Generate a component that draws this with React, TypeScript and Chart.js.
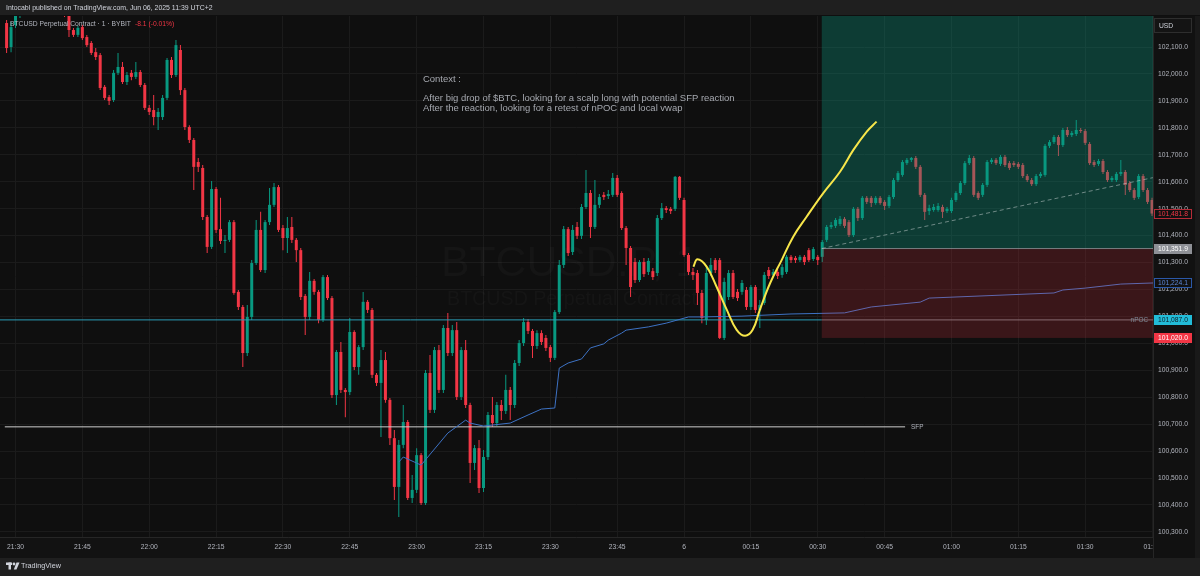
import React, { useEffect, useRef } from 'react';
import { Chart, registerables } from 'chart.js';
Chart.register(...registerables);

// minutes counted from 21:30 (UTC+2); first candle at 21:28
const firstMinute = -2;

const opens = [
  102189, 102100, 102182, 102215, 102245, 102267, 102252, 102282, 102263, 102237,
  102256, 102241, 102260, 102245, 102222, 102163, 102145, 102174, 102137, 102115,
  102081, 102070, 101952, 101914, 101903, 102004, 102026, 101970, 102004, 101989,
  102007, 101959, 101874, 101866, 101840, 101840, 101911, 102052, 101996, 102089,
  101940, 101803, 101755, 101673, 101651, 101469, 101358, 101573, 101424, 101380,
  101384, 101450, 101191, 101135, 100964, 101098, 101298, 101421, 101272, 101450,
  101514, 101580, 101428, 101391, 101432, 101384, 101346, 101176, 101098, 101232,
  101191, 101087, 101246, 101168, 100808, 100968, 100827, 100819, 101042, 100912,
  100986, 101154, 101124, 100883, 100853, 100938, 100790, 100648, 100467, 100623,
  100708, 100426, 100456, 100585, 100407, 100890, 100753, 100975, 100827, 101057,
  100964, 101049, 100801, 100975, 100771, 100556, 100611, 100463, 100578, 100734,
  100704, 100771, 100749, 100827, 100771, 100927, 101001, 101079, 101046, 100990,
  101038, 101020, 100986, 100946, 101116, 101291, 101424, 101339, 101432, 101399,
  101506, 101558, 101432, 101514, 101551, 101547, 101551, 101614, 101558, 101428,
  101354, 101302, 101235, 101302, 101265, 101268, 101261, 101465, 101502, 101499,
  101499, 101618, 101532, 101328, 101265, 101261, 101187, 101087, 101261, 101309,
  101309, 101020, 101172, 101261, 101191, 101191, 101198, 101135, 101209, 101124,
  101150, 101272, 101254, 101265, 101254, 101265, 101321, 101317, 101309, 101321,
  101346, 101313, 101321, 101321, 101384, 101432, 101436, 101443, 101462, 101450,
  101402, 101499, 101465, 101540, 101540, 101521, 101540, 101525, 101510, 101543,
  101606, 101625, 101669, 101681, 101688, 101655, 101551, 101491, 101495, 101495,
  101506, 101491, 101491, 101532, 101558, 101595, 101669, 101688, 101558, 101551,
  101588, 101673, 101681, 101666, 101692, 101669, 101669, 101666, 101662, 101621,
  101606, 101591, 101621, 101625, 101733, 101747, 101766, 101736, 101792, 101773,
  101777, 101792, 101788, 101740, 101673, 101666, 101677, 101636, 101606, 101606,
  101629, 101636, 101595, 101569, 101543, 101621, 101569, 101532,
];

const highs = [
  102200, 102193, 102237, 102260, 102282, 102289, 102297, 102293, 102271, 102263,
  102267, 102271, 102267, 102256, 102230, 102171, 102178, 102182, 102145, 102122,
  102096, 102078, 101959, 101922, 102015, 102078, 102044, 102007, 102015, 102044,
  102015, 101966, 101885, 101922, 101874, 101922, 102059, 102063, 102126, 102107,
  101948, 101810, 101762, 101688, 101662, 101476, 101603, 101580, 101540, 101402,
  101458, 101458, 101198, 101142, 101142, 101309, 101458, 101488, 101458, 101577,
  101595, 101588, 101439, 101469, 101469, 101391, 101354, 101183, 101265, 101239,
  101198, 101254, 101254, 101176, 100975, 101005, 100834, 101094, 101049, 100994,
  101191, 101161, 101131, 100890, 100975, 100968, 100797, 100678, 100641, 100771,
  100715, 100511, 100611, 100593, 100901, 100957, 100986, 100994, 101068, 101113,
  101068, 101079, 100986, 101012, 100779, 100623, 100641, 100604, 100745, 100801,
  100782, 100790, 100883, 100838, 100938, 101012, 101094, 101090, 101053, 101049,
  101049, 101031, 100994, 101124, 101309, 101436, 101432, 101439, 101450, 101517,
  101643, 101569, 101606, 101554, 101562, 101569, 101632, 101625, 101565, 101436,
  101361, 101317, 101309, 101317, 101317, 101280, 101476, 101521, 101510, 101506,
  101621, 101621, 101540, 101335, 101280, 101272, 101198, 101291, 101317, 101317,
  101317, 101243, 101272, 101272, 101202, 101235, 101209, 101217, 101217, 101161,
  101265, 101283, 101276, 101276, 101294, 101328, 101328, 101324, 101328, 101328,
  101354, 101358, 101328, 101384, 101439, 101450, 101465, 101473, 101469, 101458,
  101506, 101506, 101547, 101547, 101547, 101547, 101547, 101532, 101551, 101614,
  101640, 101681, 101688, 101692, 101695, 101662, 101558, 101514, 101517, 101521,
  101514, 101506, 101540, 101565, 101603, 101677, 101699, 101695, 101565, 101595,
  101681, 101688, 101688, 101699, 101699, 101677, 101677, 101673, 101669, 101629,
  101614, 101629, 101636, 101740, 101755, 101773, 101773, 101799, 101803, 101788,
  101829, 101799, 101796, 101747, 101681, 101684, 101684, 101643, 101621, 101636,
  101681, 101643, 101603, 101577, 101629, 101629, 101577, 101540,
];

const lows = [
  102078, 102081, 102171, 102208, 102230, 102241, 102245, 102252, 102226, 102226,
  102230, 102234, 102230, 102211, 102137, 102137, 102137, 102126, 102100, 102070,
  102052, 101940, 101903, 101885, 101896, 101996, 101963, 101959, 101977, 101981,
  101952, 101866, 101848, 101810, 101792, 101829, 101903, 101985, 101989, 101922,
  101792, 101744, 101569, 101636, 101458, 101335, 101350, 101410, 101369, 101335,
  101376, 101180, 101124, 100912, 100953, 101087, 101291, 101265, 101261, 101439,
  101506, 101413, 101346, 101335, 101372, 101302, 101161, 101031, 101087, 101180,
  101075, 101079, 101161, 100797, 100771, 100816, 100726, 100808, 100901, 100883,
  100975, 101113, 100871, 100842, 100652, 100779, 100623, 100418, 100355, 100611,
  100418, 100407, 100444, 100400, 100400, 100741, 100741, 100816, 100816, 100953,
  100953, 100790, 100790, 100760, 100482, 100530, 100444, 100448, 100567, 100689,
  100693, 100715, 100738, 100715, 100760, 100916, 100990, 101035, 100946, 100979,
  100994, 100972, 100931, 100938, 101109, 101280, 101324, 101328, 101387, 101387,
  101499, 101391, 101424, 101502, 101532, 101536, 101543, 101543, 101421, 101291,
  101172, 101224, 101228, 101246, 101254, 101235, 101250, 101458, 101484, 101480,
  101491, 101532, 101321, 101254, 101235, 101142, 101075, 101068, 101250, 101261,
  101016, 101012, 101161, 101165, 101157, 101180, 101124, 101124, 101113, 101057,
  101142, 101239, 101246, 101239, 101243, 101257, 101298, 101298, 101302, 101291,
  101302, 101306, 101291, 101302, 101376, 101424, 101428, 101436, 101428, 101395,
  101395, 101454, 101458, 101517, 101506, 101514, 101514, 101495, 101502, 101536,
  101599, 101618, 101662, 101673, 101647, 101543, 101458, 101476, 101488, 101488,
  101465, 101484, 101484, 101525, 101551, 101588, 101662, 101543, 101532, 101543,
  101580, 101666, 101662, 101658, 101655, 101643, 101655, 101647, 101614, 101599,
  101584, 101584, 101614, 101618, 101725, 101740, 101695, 101729, 101766, 101766,
  101770, 101781, 101736, 101662, 101655, 101658, 101629, 101599, 101599, 101599,
  101621, 101551, 101562, 101532, 101536, 101562, 101517, 101473,
];

const closes = [
  102096, 102174, 102222, 102245, 102267, 102252, 102282, 102263, 102237, 102256,
  102241, 102260, 102245, 102222, 102163, 102145, 102171, 102133, 102107, 102078,
  102063, 101948, 101911, 101900, 102004, 102026, 101970, 101996, 101989, 102007,
  101959, 101874, 101859, 101840, 101859, 101911, 102052, 101996, 102107, 101940,
  101803, 101755, 101655, 101655, 101469, 101358, 101573, 101421, 101380, 101384,
  101450, 101187, 101135, 100964, 101098, 101298, 101421, 101272, 101450, 101514,
  101580, 101421, 101391, 101428, 101384, 101346, 101172, 101098, 101232, 101191,
  101087, 101246, 101168, 100808, 100968, 100827, 100819, 101042, 100912, 100986,
  101154, 101124, 100883, 100853, 100938, 100790, 100648, 100467, 100623, 100708,
  100426, 100456, 100585, 100407, 100890, 100753, 100975, 100827, 101057, 100964,
  101049, 100801, 100975, 100771, 100556, 100611, 100463, 100578, 100734, 100704,
  100771, 100749, 100827, 100771, 100927, 101001, 101079, 101046, 100990, 101038,
  101005, 100983, 100946, 101116, 101291, 101424, 101335, 101421, 101399, 101506,
  101558, 101432, 101514, 101543, 101543, 101554, 101614, 101551, 101428, 101354,
  101209, 101235, 101302, 101257, 101306, 101246, 101465, 101502, 101495, 101491,
  101618, 101540, 101328, 101265, 101254, 101187, 101094, 101261, 101291, 101272,
  101020, 101228, 101261, 101172, 101168, 101224, 101135, 101209, 101124, 101142,
  101254, 101250, 101265, 101250, 101283, 101321, 101309, 101309, 101321, 101302,
  101309, 101350, 101309, 101376, 101432, 101439, 101458, 101462, 101436, 101402,
  101499, 101465, 101540, 101525, 101521, 101540, 101521, 101510, 101543, 101606,
  101632, 101673, 101681, 101688, 101655, 101551, 101488, 101502, 101506, 101510,
  101488, 101499, 101532, 101558, 101595, 101669, 101688, 101551, 101540, 101588,
  101673, 101681, 101669, 101692, 101662, 101651, 101662, 101655, 101621, 101606,
  101591, 101621, 101629, 101733, 101747, 101766, 101736, 101792, 101773, 101781,
  101792, 101788, 101744, 101669, 101662, 101677, 101636, 101606, 101614, 101629,
  101636, 101588, 101569, 101540, 101621, 101569, 101525, 101481.8,
];

const timeTickMinutes = [0, 15, 30, 45, 60, 75, 90, 105, 120, 135, 150, 165, 180, 195, 210, 225, 240, 255];
const timeTickLabels = ['21:30', '21:45', '22:00', '22:15', '22:30', '22:45', '23:00', '23:15', '23:30', '23:45', '6', '00:15', '00:30', '00:45', '01:00', '01:15', '01:30', '01:45'];
const priceTicks = [100300, 100400, 100500, 100600, 100700, 100800, 100900, 101000, 101100, 101200, 101300, 101400, 101500, 101600, 101700, 101800, 101900, 102000, 102100];

const vwapMinutes = [86, 87, 91, 97, 101, 102, 105, 111, 115, 118, 121, 122, 124, 127, 129, 132, 133, 136, 137, 142, 146, 151, 154, 163, 174, 186, 192, 203, 205, 233, 235, 240, 248, 255.3];
const vwapValues = [100559, 100578, 100548, 100667, 100715, 100704, 100693, 100704, 100734, 100756, 100760, 100908, 100927, 100942, 100983, 100998, 101012, 101038, 101049, 101061, 101075, 101098, 101098, 101101, 101109, 101113, 101135, 101153, 101168, 101187, 101198, 101205, 101220, 101224.1];

const curveMinutes = [152.1, 153.0, 155.1, 157.3, 159.6, 161.8, 163.7, 165.4, 167.0, 169.3, 171.9, 174.5, 177.5, 181.2, 185.0, 188.0, 191.0, 193.2];
const curvePrices = [101284, 101312, 101284, 101210, 101124, 101050, 101028, 101050, 101124, 101223, 101309, 101396, 101470, 101557, 101637, 101718, 101786, 101823];

const npocPrice = 101087.0;
const sfpPrice = 100690;
const sfpStartMinute = -2.4;
const sfpEndMinute = 199.6;
const entryPrice = 101351.9;
const stopPrice = 101020.0;
const targetPrice = 102300;
const positionStartMinute = 180.9;
const trendEndMinute = 255.2;
const trendEndPrice = 101615;
const lastPrice = 101481.8;
const vwapLast = 101224.1;

const xMin = -3.48;
const xMax = 255.22;
const yMin = 100281.1;
const yMax = 102215.1;

const UP = '#089981';
const DOWN = '#f23645';
const FONT = '"Liberation Sans", Arial, sans-serif';

const fmt = (v: number) => v.toLocaleString('en-US', { minimumFractionDigits: 1, maximumFractionDigits: 1 });

function fitSize(ctx: CanvasRenderingContext2D, text: string, width: number, weight = '') {
  ctx.font = `${weight} 100px ${FONT}`;
  return (100 * width) / ctx.measureText(text).width;
}

const tvPlugin = {
  id: 'tvDecor',
  beforeDraw(chart: any) {
    const { ctx, chartArea: a } = chart;
    ctx.save();
    ctx.fillStyle = '#0f0f0f';
    ctx.fillRect(0, 0, 1200, 576);
    ctx.fillStyle = '#111111';
    ctx.fillRect(a.right, a.top, 1200 - a.right, 558 - a.top);
    ctx.fillStyle = '#121212';
    ctx.fillRect(0, a.bottom, a.right, 558 - a.bottom);
    ctx.fillStyle = '#1f1f1f';
    ctx.fillRect(0, 0, 1200, a.top - 1);
    ctx.fillRect(0, 558, 1200, 18);
    ctx.fillStyle = '#191919';
    ctx.fillRect(1195, a.top, 5, 558 - a.top);
    ctx.restore();
  },
  beforeDatasetsDraw(chart: any) {
    const { ctx } = chart;
    ctx.save();
    ctx.fillStyle = 'rgba(255,255,255,0.028)';
    ctx.textAlign = 'center';
    ctx.textBaseline = 'middle';
    let s = fitSize(ctx, 'BTCUSD.P, 1', 258);
    ctx.font = `${s}px ${FONT}`;
    ctx.fillText('BTCUSD.P, 1', 570, 264);
    s = fitSize(ctx, 'BTCUSD Perpetual Contract', 250);
    ctx.font = `${s}px ${FONT}`;
    ctx.fillText('BTCUSD Perpetual Contract', 572, 300);
    ctx.restore();
  },
  afterDatasetDraw(chart: any, args: any) {
    if (chart.data.datasets[args.index].label !== 'VWAP') return;
    const { ctx, chartArea: a, scales } = chart;
    const xs = scales.x, ys = scales.y;
    const left = xs.getPixelForValue(positionStartMinute);
    const yT = Math.max(ys.getPixelForValue(targetPrice), a.top);
    const yE = ys.getPixelForValue(entryPrice);
    const yS = ys.getPixelForValue(stopPrice);
    ctx.save();
    ctx.beginPath();
    ctx.rect(a.left, a.top, a.right - a.left, a.bottom - a.top);
    ctx.clip();
    ctx.fillStyle = 'rgba(8,153,129,0.33)';
    ctx.fillRect(left, yT, a.right - left, yE - yT);
    ctx.fillStyle = 'rgba(242,54,69,0.19)';
    ctx.fillRect(left, yE, a.right - left, yS - yE);
    ctx.restore();
  },
  afterDraw(chart: any) {
    const { ctx, chartArea: a, scales } = chart;
    const xs = scales.x, ys = scales.y;
    ctx.save();
    ctx.strokeStyle = '#262626';
    ctx.lineWidth = 1;
    ctx.beginPath();
    ctx.moveTo(a.right + 0.5, a.top);
    ctx.lineTo(a.right + 0.5, 558);
    ctx.moveTo(0, a.bottom + 0.5);
    ctx.lineTo(a.right, a.bottom + 0.5);
    ctx.stroke();

    const axisSize = fitSize(ctx, '102,100.0', 30);
    ctx.font = `${axisSize}px ${FONT}`;
    ctx.textBaseline = 'middle';
    ctx.fillStyle = '#b2b5be';
    ctx.textAlign = 'left';
    priceTicks.forEach((p) => {
      const y = ys.getPixelForValue(p);
      ctx.fillText(fmt(p), a.right + 5, y);
    });
    ctx.save();
    ctx.beginPath();
    ctx.rect(0, a.bottom, a.right, 30);
    ctx.clip();
    ctx.textAlign = 'center';
    timeTickMinutes.forEach((m, i) => {
      ctx.fillText(timeTickLabels[i], xs.getPixelForValue(m), a.bottom + 10.5);
    });
    ctx.restore();

    const tag = (price: number, text: string, bg: string, fg: string, border?: string) => {
      const y = Math.round(ys.getPixelForValue(price));
      const x = a.right + 1, w = 38, h = 10;
      ctx.fillStyle = bg;
      ctx.fillRect(x, y - 5, w, h);
      if (border) {
        ctx.strokeStyle = border;
        ctx.strokeRect(x + 0.5, y - 4.5, w - 1, h - 1);
      }
      ctx.fillStyle = fg;
      ctx.textAlign = 'left';
      ctx.fillText(text, a.right + 5, y + 0.5);
    };
    tag(lastPrice, fmt(lastPrice), '#111111', '#f23645', '#b52c38');
    tag(entryPrice, fmt(entryPrice), '#8e9096', '#ffffff');
    tag(vwapLast, fmt(vwapLast), '#111111', '#5b86d6', '#2b58a8');
    tag(npocPrice, fmt(npocPrice), '#22bcd8', '#0d1b24');
    tag(stopPrice, fmt(stopPrice), '#f23645', '#ffffff');

    ctx.fillStyle = '#141414';
    ctx.fillRect(a.right + 1, 18, 38, 15);
    ctx.strokeStyle = '#2e2e2e';
    ctx.strokeRect(a.right + 1.5, 18.5, 37, 14);
    ctx.fillStyle = '#d1d4dc';
    ctx.fillText('USD', a.right + 6, 26);

    ctx.font = `${axisSize * 0.95}px ${FONT}`;
    ctx.fillStyle = '#7f8b98';
    ctx.textAlign = 'right';
    ctx.fillText('nPOC', a.right - 5, ys.getPixelForValue(npocPrice));
    ctx.fillStyle = '#b2b5be';
    ctx.textAlign = 'left';
    ctx.fillText('SFP', xs.getPixelForValue(sfpEndMinute) + 6, ys.getPixelForValue(sfpPrice));

    const header = 'Intocabl published on TradingView.com, Jun 06, 2025 11:39 UTC+2';
    ctx.font = `${fitSize(ctx, header, 207)}px ${FONT}`;
    ctx.fillStyle = '#d1d4dc';
    ctx.textAlign = 'left';
    ctx.fillText(header, 6, 8);

    const leg = 'BTCUSD Perpetual Contract · 1 · BYBIT';
    const legSize = fitSize(ctx, leg, 121);
    ctx.font = `${legSize}px ${FONT}`;
    ctx.fillStyle = '#b2b5be';
    ctx.fillText(leg, 10, 24.5);
    ctx.fillStyle = '#f23645';
    ctx.fillText('-8.1 (-0.01%)', 135, 24.5);

    const l1 = 'After big drop of $BTC, looking for a scalp long with potential SFP reaction';
    const l2 = 'After the reaction, looking for a retest of nPOC and local vwap';
    const cs = fitSize(ctx, l1, 312);
    ctx.font = `${cs}px ${FONT}`;
    ctx.fillStyle = '#a6a9b0';
    ctx.fillText('Context :', 423, 79.5);
    ctx.fillText(l1, 423, 98);
    ctx.fillText(l2, 423, 108.5);

    ctx.fillStyle = '#d1d4dc';
    ctx.fillRect(6, 562.5, 6, 2.5);
    ctx.fillRect(8.5, 562.5, 2.5, 7);
    ctx.beginPath();
    ctx.arc(14, 564, 1.4, 0, Math.PI * 2);
    ctx.fill();
    ctx.beginPath();
    ctx.moveTo(16.5, 562.5);
    ctx.lineTo(19.5, 562.5);
    ctx.lineTo(16.5, 569.5);
    ctx.lineTo(13.8, 569.5);
    ctx.closePath();
    ctx.fill();
    const tvs = fitSize(ctx, 'TradingView', 40, '500');
    ctx.font = `500 ${tvs}px ${FONT}`;
    ctx.fillText('TradingView', 21, 566.5);
    ctx.restore();
  },
};

export default function App() {
  const ref = useRef<HTMLCanvasElement>(null);
  useEffect(() => {
    document.body.style.margin = '0';
    const minutes = opens.map((_, i) => firstMinute + i);
    const colors = opens.map((o, i) => (closes[i] >= o ? UP : DOWN));
    const chart = new Chart(ref.current as HTMLCanvasElement, {
      type: 'bar',
      data: {
        datasets: [
          {
            type: 'bar',
            label: 'wicks',
            data: minutes.map((m, i) => ({ x: m, y: [lows[i], highs[i]] })) as any,
            backgroundColor: colors,
            barThickness: 1,
            grouped: false,
            inflateAmount: 0,
            order: 10,
          } as any,
          {
            type: 'bar',
            label: 'bodies',
            data: minutes.map((m, i) => ({ x: m, y: [opens[i], closes[i]] })) as any,
            backgroundColor: colors,
            barThickness: 3,
            minBarLength: 1,
            grouped: false,
            inflateAmount: 0,
            order: 9,
          } as any,
          {
            type: 'line',
            label: 'SFP',
            data: [{ x: sfpStartMinute, y: sfpPrice }, { x: sfpEndMinute, y: sfpPrice }],
            borderColor: '#cfcfcf',
            borderWidth: 1,
            pointRadius: 0,
            order: 8,
          },
          {
            type: 'line',
            label: 'nPOC',
            data: [{ x: xMin - 1, y: npocPrice }, { x: positionStartMinute, y: npocPrice }, { x: xMax + 1, y: npocPrice }],
            borderColor: '#2b9db6',
            borderWidth: 1,
            pointRadius: 0,
            segment: { borderColor: (c: any) => (c.p0DataIndex >= 1 ? '#6f787c' : '#2b9db6') },
            order: 7,
          } as any,
          {
            type: 'line',
            label: 'VWAP',
            data: vwapMinutes.map((m, i) => ({ x: m, y: vwapValues[i] })),
            borderColor: '#3d72c4',
            borderWidth: 1,
            pointRadius: 0,
            order: 6,
          },
          {
            type: 'line',
            label: 'entry',
            data: [{ x: positionStartMinute, y: entryPrice }, { x: xMax + 1, y: entryPrice }],
            borderColor: 'rgba(150,156,160,0.75)',
            borderWidth: 1,
            pointRadius: 0,
            order: 5,
          },
          {
            type: 'line',
            label: 'trend',
            data: [{ x: positionStartMinute, y: entryPrice }, { x: trendEndMinute, y: trendEndPrice }],
            borderColor: 'rgba(190,200,200,0.55)',
            borderWidth: 1,
            borderDash: [4, 3],
            pointRadius: 0,
            order: 4,
          },
          {
            type: 'line',
            label: 'curve',
            data: curveMinutes.map((m, i) => ({ x: m, y: curvePrices[i] })),
            borderColor: '#f7e64a',
            borderWidth: 2,
            pointRadius: 0,
            tension: 0.4,
            order: 1,
          },
        ],
      },
      options: {
        responsive: false,
        animation: false,
        devicePixelRatio: 1,
        layout: { padding: { top: 16, left: 0, right: 0, bottom: 0 } },
        plugins: { legend: { display: false }, tooltip: { enabled: false } },
        events: [],
        scales: {
          x: {
            type: 'linear',
            min: xMin,
            max: xMax,
            offset: false,
            grid: { color: '#1b1b1b', drawTicks: false, offset: false },
            border: { display: false },
            ticks: { display: false },
            afterBuildTicks: (s: any) => {
              s.ticks = timeTickMinutes.map((v) => ({ value: v }));
            },
            afterFit: (s: any) => {
              s.height = 39;
            },
          },
          y: {
            type: 'linear',
            position: 'right',
            min: yMin,
            max: yMax,
            grid: { color: '#1b1b1b', drawTicks: false },
            border: { display: false },
            ticks: { display: false },
            afterBuildTicks: (s: any) => {
              s.ticks = priceTicks.map((v) => ({ value: v }));
            },
            afterFit: (s: any) => {
              s.width = 47;
            },
          },
        },
      } as any,
      plugins: [tvPlugin as any],
    });
    return () => chart.destroy();
  }, []);
  return <canvas ref={ref} width={1200} height={576} style={{ display: 'block', width: 1200, height: 576 }} />;
}
